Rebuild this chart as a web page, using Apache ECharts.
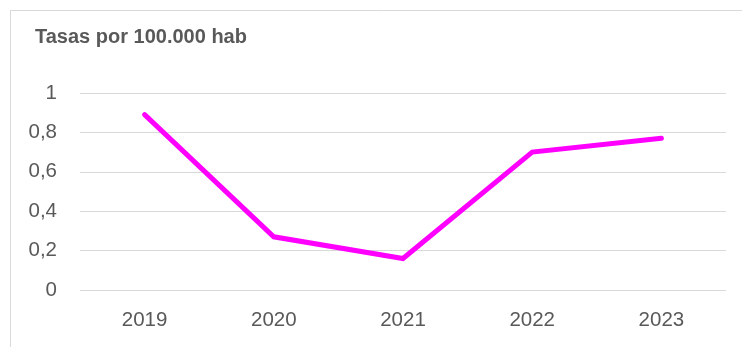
<!DOCTYPE html>
<html>
<head>
<meta charset="utf-8">
<script src="https://cdn.jsdelivr.net/npm/echarts@6/dist/echarts.min.js"></script>
<style>
  html, body { margin: 0; padding: 0; background: #ffffff; }
  #chart { width: 742px; height: 347px; }
</style>
</head>
<body>
<div id="chart"></div>
<script>
// Tasas anuales por 100.000 habitantes
const years = ['2019', '2020', '2021', '2022', '2023'];
const rates = [0.89, 0.27, 0.16, 0.70, 0.77];
const yTicks = { min: 0, max: 1, step: 0.2 };
const titleText = 'Tasas por 100.000 hab';

const chart = echarts.init(document.getElementById('chart'), null, { renderer: 'canvas' });
const fontFamily = '"Liberation Sans", Arial, sans-serif';

chart.setOption({
  animation: false,
  backgroundColor: '#ffffff',
  graphic: [{
    type: 'rect',
    shape: { x: 10.5, y: 10.5, width: 900, height: 500 },
    style: { fill: 'none', stroke: '#d9d9d9', lineWidth: 1 },
    silent: true
  }],
  title: {
    text: titleText,
    left: 35,
    top: 27,
    padding: 0,
    textStyle: { fontFamily, fontSize: 20, fontWeight: 'bold', color: '#595959' }
  },
  grid: { left: 80, right: 16, top: 93, bottom: 57, containLabel: false },
  xAxis: {
    type: 'category',
    data: years,
    boundaryGap: true,
    axisLine: { show: false },
    axisTick: { show: false },
    axisLabel: { fontFamily, fontSize: 20.5, color: '#595959', margin: 20 }
  },
  yAxis: {
    type: 'value',
    min: yTicks.min,
    max: yTicks.max,
    interval: yTicks.step,
    axisLine: { show: false },
    axisTick: { show: false },
    splitLine: { lineStyle: { color: '#d9d9d9', width: 1 } },
    axisLabel: {
      fontFamily, fontSize: 20.5, color: '#595959', margin: 23,
      formatter: v => String(Math.round(v * 10) / 10).replace('.', ',')
    }
  },
  series: [{
    type: 'line',
    data: rates,
    symbol: 'none',
    lineStyle: { color: '#ff00ff', width: 5, cap: 'round', join: 'miter' }
  }]
});
</script>
</body>
</html>
